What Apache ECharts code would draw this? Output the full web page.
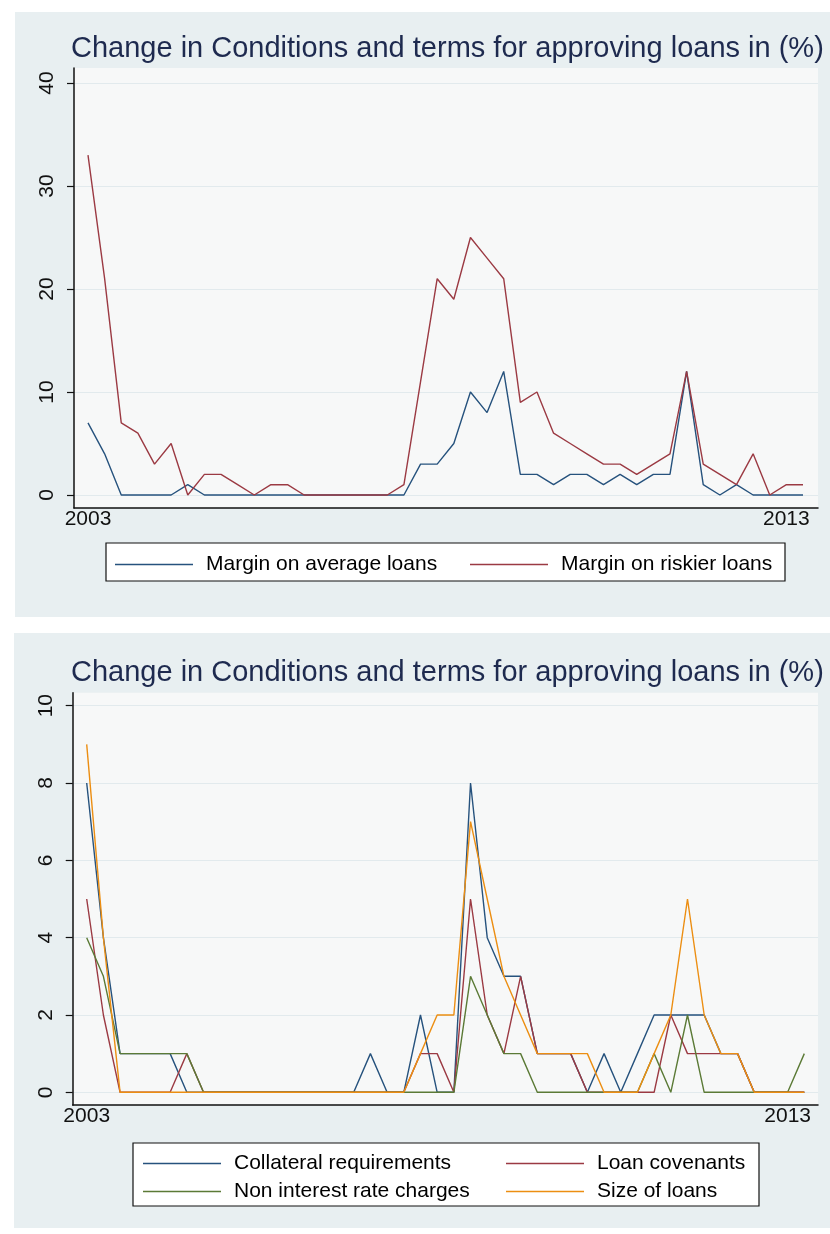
<!DOCTYPE html>
<html>
<head>
<meta charset="utf-8">
<script src="https://cdn.jsdelivr.net/npm/echarts@6/dist/echarts.min.js"></script>
<style>
html,body{margin:0;padding:0;background:#fff;}
#c{width:830px;height:1234px;}
</style>
</head>
<body>
<div id="c"></div>
<script>
// ---- data (quarterly observations, first = 2003) ----
const titleText = 'Change in Conditions and terms for approving loans in (%)';
const xTickIdx = [0, 42];
const xTickLabels = ['2003', '2013'];
const topYTicks = [0, 10, 20, 30, 40];
const botYTicks = [0, 2, 4, 6, 8, 10];

const avgLoans     = [7,4,0,0,0,0,1,0,0,0, 0,0,0,0,0,0,0,0,0,0, 3,3,5,10,8,12,2,2,1,2, 2,1,2,1,2,2,12,1,0,1, 0,0,0,0];
const riskierLoans = [33,21,7,6,3,5,0,2,2,1, 0,1,1,0,0,0,0,0,0,1, 11,21,19,25,23,21,9,10,6,5, 4,3,3,2,3,4,12,3,2,1, 4,0,1,1];

const collateral  = [8,4,1,1,1,1,0,0,0,0, 0,0,0,0,0,0,0,1,0,0, 2,0,0,8,4,3,3,1,1,1, 0,1,0,1,2,2,2,2,1,1, 0,0,0,0];
const covenants   = [5,2,0,0,0,0,1,0,0,0, 0,0,0,0,0,0,0,0,0,0, 1,1,0,5,2,1,3,1,1,1, 0,0,0,0,0,2,1,1,1,1, 0,0,0,0];
const nonInterest = [4,3,1,1,1,1,1,0,0,0, 0,0,0,0,0,0,0,0,0,0, 0,0,0,3,2,1,1,0,0,0, 0,0,0,0,1,0,2,0,0,0, 0,0,0,1];
const sizeLoans   = [9,4,0,0,0,0,0,0,0,0, 0,0,0,0,0,0,0,0,0,0, 1,2,2,7,5,3,2,1,1,1, 1,0,0,0,1,2,5,2,1,1, 0,0,0,0];

const topNames = ['Margin on average loans', 'Margin on riskier loans'];
const botNames = ['Collateral requirements', 'Loan covenants', 'Non interest rate charges', 'Size of loans'];

// ---- styling ----
const FONT = "'Liberation Sans', Arial, sans-serif";
const C_BLUE = '#26527d', C_RED = '#9b3a43', C_GREEN = '#5b7a36', C_ORANGE = '#ec8e12';
const PANEL_BG = '#e8eff1', PLOT_BG = '#f7f8f8', GRID_C = '#e2eaed';

const toXY = arr => arr.map((v, i) => [i, v]);

function xAxisCfg(gi, min, max) {
  return {
    type: 'value', gridIndex: gi, min: min, max: max,
    axisLine: {show: true, onZero: false, lineStyle: {color: '#111', width: 1.5}},
    axisTick: {show: false},
    splitLine: {show: false},
    axisLabel: {
      customValues: xTickIdx, margin: 1,
      formatter: v => xTickLabels[xTickIdx.indexOf(Math.round(v))] || '',
      fontFamily: FONT, fontSize: 21, color: '#111'
    }
  };
}
function yAxisCfg(gi, min, max, ticks) {
  return {
    type: 'value', gridIndex: gi, min: min, max: max,
    axisLine: {show: true, onZero: false, lineStyle: {color: '#111', width: 1.5}},
    axisTick: {show: true, customValues: ticks, length: 7, lineStyle: {color: '#111', width: 1.2}},
    splitLine: {show: true, lineStyle: {color: GRID_C, width: 1.2}},
    axisLabel: {customValues: ticks, rotate: 90, margin: 16, fontFamily: FONT, fontSize: 21, color: '#111'}
  };
}
function lineSeries(name, data, color, xi, yi) {
  return {
    type: 'line', name: name, data: toXY(data), xAxisIndex: xi, yAxisIndex: yi,
    showSymbol: false, symbol: 'none', lineStyle: {color: color, width: 1.4},
    itemStyle: {color: color}, silent: true, animation: false
  };
}
function legendItem(name, left, top, w) {
  return {
    data: [name], left: left, top: top, orient: 'horizontal',
    icon: 'rect', itemWidth: w, itemHeight: 1.6, padding: 0, selectedMode: false,
    textStyle: {fontFamily: FONT, fontSize: 21, color: '#000', padding: [0, 0, 0, 8]}
  };
}

const chart = echarts.init(document.getElementById('c'), null, {renderer: 'canvas'});
chart.setOption({
  backgroundColor: '#ffffff',
  animation: false,
  title: [
    {text: titleText, left: 71, top: 34, padding: 0,
     textStyle: {fontFamily: FONT, fontSize: 29, fontWeight: 'normal', color: '#1e2a4f'}},
    {text: titleText, left: 71, top: 658, padding: 0,
     textStyle: {fontFamily: FONT, fontSize: 29, fontWeight: 'normal', color: '#1e2a4f'}}
  ],
  graphic: [
    {type: 'rect', z: -10, silent: true, shape: {x: 15, y: 12, width: 815, height: 605}, style: {fill: PANEL_BG}},
    {type: 'rect', z: -10, silent: true, shape: {x: 14, y: 633, width: 816, height: 595}, style: {fill: PANEL_BG}},
    {type: 'rect', z: 3, silent: true, shape: {x: 106, y: 543, width: 679, height: 38}, style: {fill: '#ffffff', stroke: '#111', lineWidth: 1.2}},
    {type: 'rect', z: 3, silent: true, shape: {x: 133, y: 1143, width: 626, height: 63}, style: {fill: '#ffffff', stroke: '#111', lineWidth: 1.2}}
  ],
  grid: [
    {left: 74, top: 68, width: 744, height: 440, show: true, backgroundColor: PLOT_BG, borderWidth: 0},
    {left: 72.7, top: 692.7, width: 745.3, height: 412.3, show: true, backgroundColor: PLOT_BG, borderWidth: 0}
  ],
  xAxis: [
    xAxisCfg(0, -0.842, 43.902),
    xAxisCfg(1, -0.839, 43.82)
  ],
  yAxis: [
    yAxisCfg(0, -1.262, 41.456, topYTicks),
    yAxisCfg(1, -0.3285, 10.336, botYTicks)
  ],
  legend: [
    legendItem(topNames[0], 115, 554, 78),
    legendItem(topNames[1], 470, 554, 78),
    legendItem(botNames[0], 143, 1153, 78),
    legendItem(botNames[1], 506, 1153, 78),
    legendItem(botNames[2], 143, 1181, 78),
    legendItem(botNames[3], 506, 1181, 78)
  ],
  series: [
    lineSeries(topNames[0], avgLoans, C_BLUE, 0, 0),
    lineSeries(topNames[1], riskierLoans, C_RED, 0, 0),
    lineSeries(botNames[0], collateral, C_BLUE, 1, 1),
    lineSeries(botNames[1], covenants, C_RED, 1, 1),
    lineSeries(botNames[2], nonInterest, C_GREEN, 1, 1),
    lineSeries(botNames[3], sizeLoans, C_ORANGE, 1, 1)
  ]
});
</script>
</body>
</html>
